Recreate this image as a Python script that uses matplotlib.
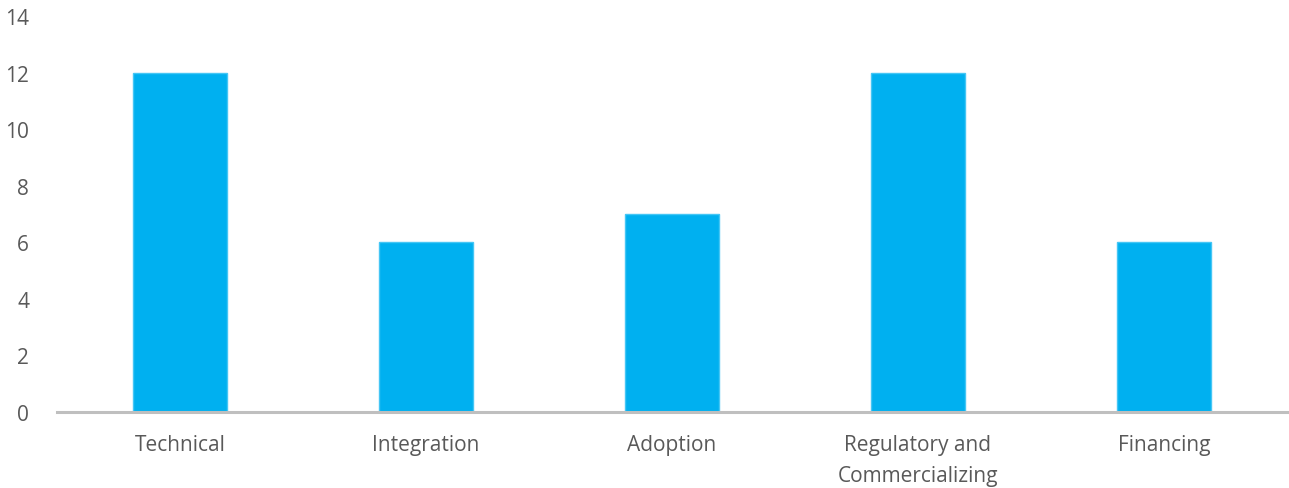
import matplotlib.pyplot as plt

categories = ['Technical', 'Integration', 'Adoption', 'Regulatory and\nCommercializing', 'Financing']
counts = [12, 6, 7, 12, 6]
y_ticks = [0, 2, 4, 6, 8, 10, 12, 14]

plt.rcParams['font.family'] = ['Open Sans', 'DejaVu Sans']
text_color = '#595959'

fig = plt.figure(figsize=(12.89, 4.89), dpi=100)
ax = fig.add_axes([57 / 1289, 76 / 489, 1230 / 1289, 396 / 489])

x = range(len(categories))
ax.bar(x, counts, width=0.38, color='#00B0F0', edgecolor='#45C6F5', linewidth=1.0, zorder=2)

ax.set_xlim(-0.5, len(categories) - 0.5)
ax.set_ylim(0, 14)
ax.set_yticks(y_ticks)
ax.set_xticks(list(x))
ax.set_xticklabels(categories, linespacing=1.6)

for side in ['top', 'right', 'left']:
    ax.spines[side].set_visible(False)
ax.spines['bottom'].set_color('#BFBFBF')
ax.spines['bottom'].set_linewidth(2.2)
ax.spines['bottom'].set_zorder(3)

ax.tick_params(axis='y', length=0, pad=20, labelsize=15, labelcolor=text_color)
ax.tick_params(axis='x', length=0, pad=16, labelsize=15, labelcolor=text_color)

fig.savefig('out.png', dpi=100)
